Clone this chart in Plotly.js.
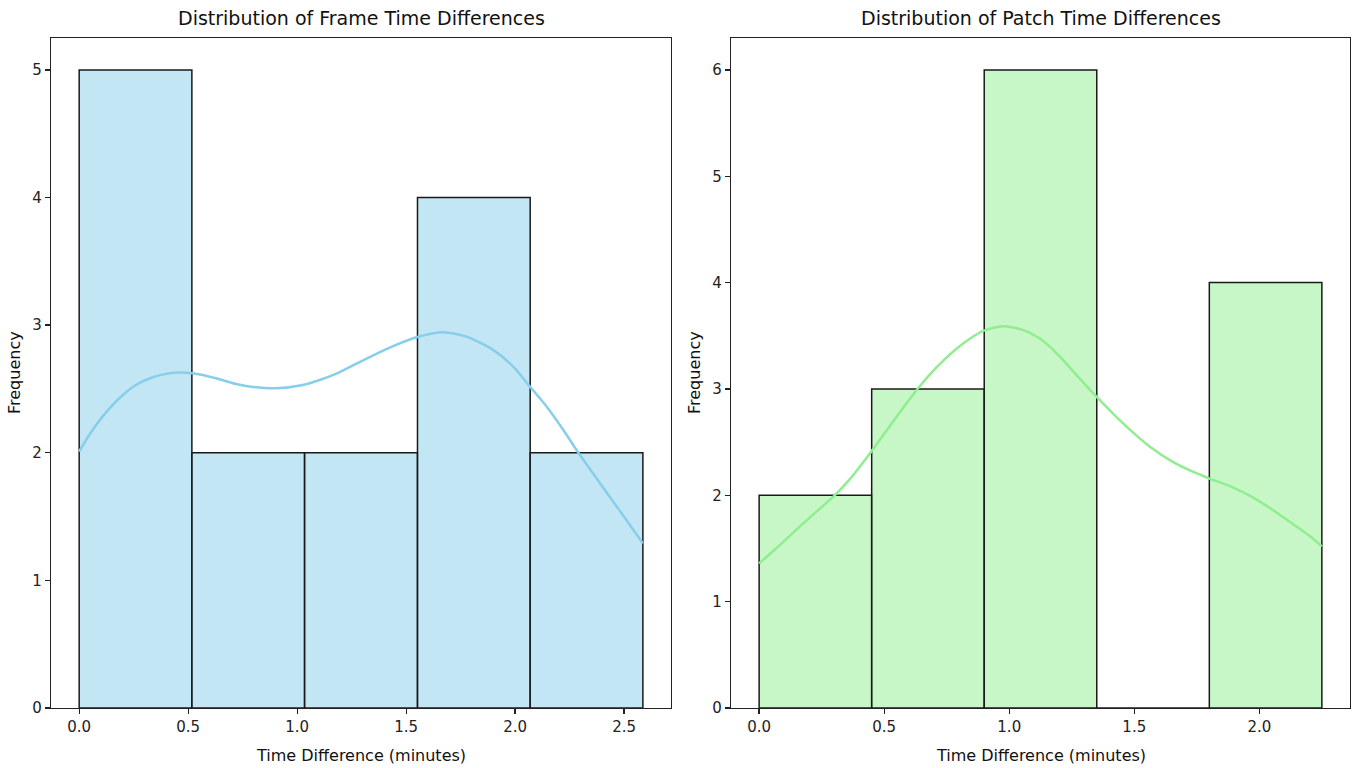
<!DOCTYPE html>
<html>
<head>
<meta charset="utf-8">
<script src="https://cdn.plot.ly/plotly-3.0.1.min.js"></script>
<style>html,body{margin:0;padding:0;background:#fff;}#chart{width:1357px;height:768px;}</style>
</head>
<body>
<div id="chart"></div>
<script>
// ---- Data ----
const frameBinEdges = [0, 0.517, 1.034, 1.552, 2.069, 2.586];
const frameCounts = [5, 2, 2, 4, 2];
const frameKdeX = [0, 0.046, 0.107, 0.184, 0.26, 0.337, 0.414, 0.475, 0.567, 0.643, 0.72, 0.797, 0.904, 1.026, 1.103, 1.18, 1.256, 1.333, 1.44, 1.547, 1.67, 1.777, 1.899, 1.991, 2.068, 2.145, 2.221, 2.29, 2.359, 2.436, 2.512, 2.586];
const frameKdeY = [2.01, 2.139, 2.283, 2.427, 2.531, 2.592, 2.623, 2.628, 2.610, 2.576, 2.539, 2.516, 2.505, 2.531, 2.570, 2.62, 2.685, 2.75, 2.835, 2.905, 2.945, 2.910, 2.806, 2.675, 2.518, 2.361, 2.179, 2.0, 1.835, 1.65, 1.47, 1.29];

const patchBinEdges = [0, 0.45, 0.9, 1.35, 1.8, 2.25];
const patchCounts = [2, 3, 6, 0, 4];
const patchKdeX = [0, 0.069, 0.162, 0.229, 0.302, 0.362, 0.448, 0.522, 0.588, 0.633, 0.708, 0.775, 0.841, 0.901, 0.975, 1.054, 1.121, 1.161, 1.22, 1.281, 1.348, 1.414, 1.481, 1.561, 1.654, 1.734, 1.798, 1.88, 1.974, 2.054, 2.134, 2.20, 2.25];
const patchKdeY = [1.36, 1.502, 1.705, 1.846, 2.0, 2.15, 2.41, 2.65, 2.86, 3.0, 3.2, 3.35, 3.47, 3.55, 3.59, 3.555, 3.477, 3.40, 3.26, 3.10, 2.93, 2.77, 2.62, 2.46, 2.315, 2.222, 2.160, 2.088, 1.981, 1.862, 1.730, 1.62, 1.52];

const titles = ["Distribution of Frame Time Differences", "Distribution of Patch Time Differences"];
const xLabel = "Time Difference (minutes)";
const yLabel = "Frequency";

// ---- Build traces ----
function barsFrom(edges, counts, fill, xa, ya) {
  const x = [], w = [];
  for (let i = 0; i < counts.length; i++) { x.push(edges[i]); w.push(edges[i+1] - edges[i]); }
  return {
    type: 'bar', x: x, y: counts, width: w, offset: 0,
    marker: {color: fill, line: {color: '#1a1a1a', width: 1.5}},
    xaxis: xa, yaxis: ya, hoverinfo: 'x+y', showlegend: false
  };
}
function kde(x, y, color, xa, ya) {
  return {type: 'scatter', mode: 'lines', x: x, y: y, line: {color: color, width: 2.5, shape: 'spline', smoothing: 0.7},
    xaxis: xa, yaxis: ya, showlegend: false};
}

const data = [
  barsFrom(frameBinEdges, frameCounts, 'rgba(135,206,235,0.5)', 'x', 'y'),
  kde(frameKdeX, frameKdeY, '#87CEEB', 'x', 'y'),
  barsFrom(patchBinEdges, patchCounts, 'rgba(144,238,144,0.5)', 'x2', 'y2'),
  kde(patchKdeX, patchKdeY, '#90EE90', 'x2', 'y2')
];

const W = 1357, H = 768;
const font = "DejaVu Sans, sans-serif";
function axisBase() {
  return {showline: true, mirror: true, linecolor: '#222', linewidth: 1.3, ticks: 'outside', ticklen: 5,
    tickwidth: 1.3, tickcolor: '#222', showgrid: false, zeroline: false,
    tickfont: {family: font, size: 15, color: '#222'}, automargin: false};
}
const L = [51, 671], R = [731, 1350], T = 38, B = 708;

const layout = {
  width: W, height: H, margin: {l: 0, r: 0, t: 0, b: 0},
  paper_bgcolor: '#fff', plot_bgcolor: '#fff', barmode: 'overlay',
  font: {family: font, color: '#222'},
  xaxis: Object.assign(axisBase(), {domain: [L[0]/W, L[1]/W], range: [-0.1293, 2.715], tickvals: [0,0.5,1,1.5,2,2.5], tickformat: '.1f', anchor: 'y'}),
  yaxis: Object.assign(axisBase(), {domain: [1 - B/H, 1 - T/H], range: [0, 5.25], dtick: 1, anchor: 'x'}),
  xaxis2: Object.assign(axisBase(), {domain: [R[0]/W, R[1]/W], range: [-0.1125, 2.3625], tickvals: [0,0.5,1,1.5,2], tickformat: '.1f', anchor: 'y2'}),
  yaxis2: Object.assign(axisBase(), {domain: [1 - B/H, 1 - T/H], range: [0, 6.3], dtick: 1, anchor: 'x2'}),
  annotations: [
    {text: titles[0], xref: 'paper', yref: 'paper', x: (L[0]+L[1])/2/W, y: 1 - 18/H, showarrow: false, xanchor: 'center', yanchor: 'middle', font: {family: font, size: 19, color: '#111'}},
    {text: titles[1], xref: 'paper', yref: 'paper', x: (R[0]+R[1])/2/W, y: 1 - 18/H, showarrow: false, xanchor: 'center', yanchor: 'middle', font: {family: font, size: 19, color: '#111'}},
    {text: xLabel, xref: 'paper', yref: 'paper', x: (L[0]+L[1])/2/W, y: 1 - 755/H, showarrow: false, xanchor: 'center', yanchor: 'middle', font: {family: font, size: 16, color: '#111'}},
    {text: xLabel, xref: 'paper', yref: 'paper', x: (R[0]+R[1])/2/W, y: 1 - 755/H, showarrow: false, xanchor: 'center', yanchor: 'middle', font: {family: font, size: 16, color: '#111'}},
    {text: yLabel, xref: 'paper', yref: 'paper', x: 15/W, y: 1 - 373/H, showarrow: false, textangle: -90, xanchor: 'center', yanchor: 'middle', font: {family: font, size: 16, color: '#111'}},
    {text: yLabel, xref: 'paper', yref: 'paper', x: 695/W, y: 1 - 373/H, showarrow: false, textangle: -90, xanchor: 'center', yanchor: 'middle', font: {family: font, size: 16, color: '#111'}}
  ]
};

Plotly.newPlot('chart', data, layout, {displayModeBar: false, staticPlot: true});
</script>
</body>
</html>
